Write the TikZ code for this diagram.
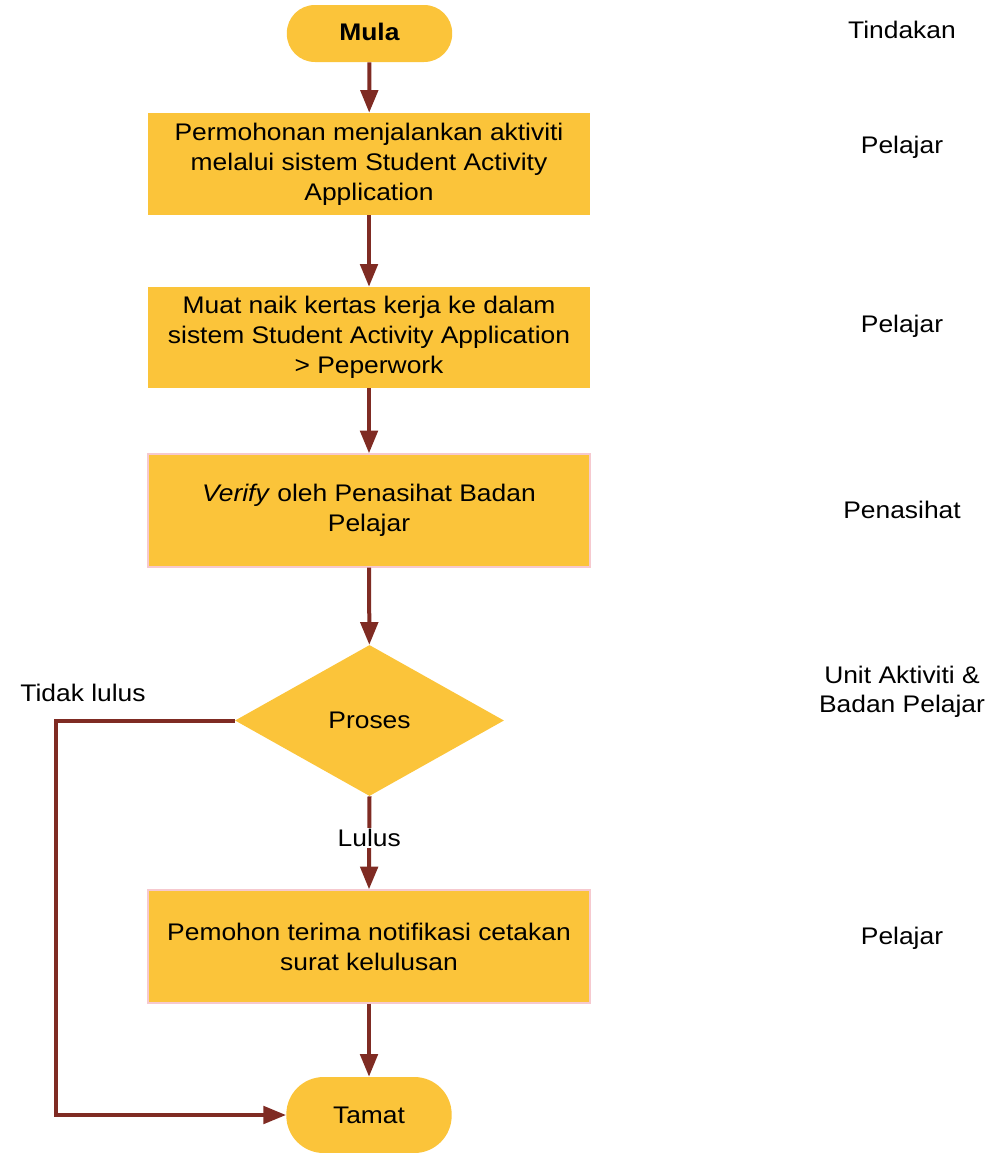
\documentclass[tikz,border=0pt]{standalone}
\usepackage{fontspec}
\setmainfont{Liberation Sans}[FakeStretch=1.1]
\usetikzlibrary{arrows.meta,shapes.geometric}
\definecolor{boxfill}{HTML}{FBC43A}
\definecolor{arrowc}{HTML}{7F2B23}
\definecolor{pinkb}{HTML}{F6C9CF}
\begin{document}
\begin{tikzpicture}[x=0.75pt,y=-0.75pt,
  font=\fontsize{18}{22.5}\selectfont,
  proc/.style={rectangle, fill=boxfill, minimum width=331.5pt, align=center, inner sep=0pt},
  pinkproc/.style={proc, draw=pinkb, line width=1pt},
  term/.style={rectangle, fill=boxfill, minimum width=124pt, align=center, inner sep=0pt},
  dec/.style={diamond, fill=boxfill, minimum width=201.75pt, minimum height=113.25pt, inner sep=0pt},
  flow/.style={draw=arrowc, line width=3pt, -{Triangle[length=17pt,width=13pt]}},
  lbl/.style={align=center, inner sep=1pt}]
\useasboundingbox (0,0) rectangle (997,1153);

\node[term, minimum height=42.75pt, rounded corners=21pt] (mula) at (369.5,33.5) {\raisebox{2.5pt}{\textbf{Mula}}};
\node[proc, minimum height=76.5pt] (b1) at (369,164) {Permohonan menjalankan aktiviti\\melalui sistem Student Activity\\Application};
\node[proc, minimum height=75.75pt] (b2) at (369,337.5) {Muat naik kertas kerja ke dalam\\sistem Student Activity Application\\> Peperwork};
\node[pinkproc, minimum height=84.75pt] (b3) at (369,510.5) {\textit{Verify} oleh Penasihat Badan\\Pelajar};
\node[dec] (dia) at (369.5,720.5) {Proses};
\node[pinkproc, minimum height=84.75pt] (b4) at (369,946.5) {Pemohon terima notifikasi cetakan\\surat kelulusan};
\node[term, minimum height=57pt, rounded corners=28pt] (tamat) at (369,1115) {Tamat};

\draw[flow] (mula) -- (b1);
\draw[flow] (b1) -- (b2);
\draw[flow] (b2) -- (b3);
\draw[flow] (b3) -- (dia);
\draw[flow] (dia.south) -- node[lbl, fill=white, pos=0.45] (lulus) {Lulus} (b4.north);
\draw[flow] (b4) -- (tamat);
\draw[flow] (dia.west) -- ++(-179,0) |- (tamat.west);

\node[lbl] (tidak) at (83,693) {Tidak lulus};

\node[lbl] (h0) at (902,30) {Tindakan};
\node[lbl] (h1) at (902,147) {Pelajar};
\node[lbl] (h2) at (902,326) {Pelajar};
\node[lbl] (h3) at (902,510) {Penasihat};
\node[lbl, font=\fontsize{18}{21.75}\selectfont] (h4) at (902,692) {Unit Aktiviti \&\\Badan Pelajar};
\node[lbl] (h5) at (902,938) {Pelajar};
\end{tikzpicture}
\end{document}
